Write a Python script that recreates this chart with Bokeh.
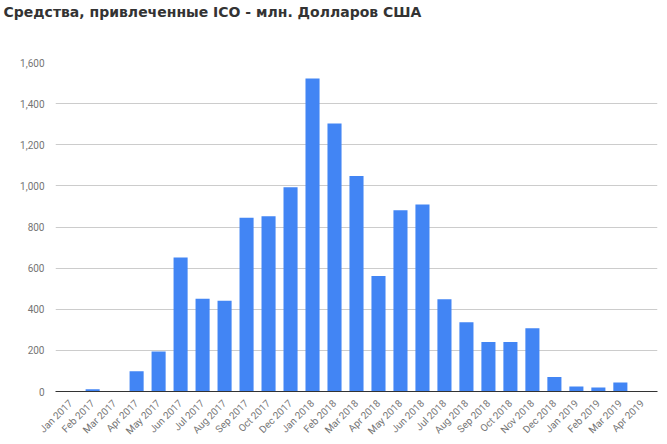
import math
from bokeh.plotting import figure
from bokeh.models import ColumnDataSource, FactorRange, Range1d, FixedTicker, NumeralTickFormatter, Title
from bokeh.embed import file_html
from bokeh.resources import INLINE

title_text = "Средства, привлеченные ICO - млн. Долларов США"
months = ["Jan 2017", "Feb 2017", "Mar 2017", "Apr 2017", "May 2017", "Jun 2017",
          "Jul 2017", "Aug 2017", "Sep 2017", "Oct 2017", "Dec 2017", "Jan 2018",
          "Feb 2018", "Mar 2018", "Apr 2018", "May 2018", "Jun 2018", "Jul 2018",
          "Aug 2018", "Sep 2018", "Oct 2018", "Nov 2018", "Dec 2018", "Jan 2019",
          "Feb 2019", "Mar 2019", "Apr 2019"]
values = [0, 11, 0, 98, 195, 652, 451, 441, 845, 852, 993, 1522, 1303, 1048, 562,
          881, 910, 449, 337, 241, 241, 307, 70, 24, 19, 44, 2]
y_ticks = [0, 200, 400, 600, 800, 1000, 1200, 1400, 1600]

src = ColumnDataSource(dict(x=months, y=values))

p = figure(width=659, height=443, output_backend="svg", toolbar_location=None,
           x_range=FactorRange(factors=months, range_padding=0.014),
           y_range=Range1d(0, 1600),
           min_border_left=55, min_border_right=2, min_border_top=62, min_border_bottom=52)

p.vbar(x="x", top="y", width=0.64, source=src, color="#4285f4", line_color=None)

# spacer between title and plot area, then the title itself (outermost)
p.add_layout(Title(text=" ", text_font_size="10px", standoff=28), "above")
p.add_layout(Title(text=title_text, text_font="DejaVu Sans", text_font_size="14px",
                   text_font_style="bold", text_color="#333333", align="left",
                   vertical_align="top", offset=-52, standoff=0), "above")

p.outline_line_color = None
p.background_fill_color = "white"
p.border_fill_color = "white"

p.xgrid.grid_line_color = None
p.ygrid.grid_line_color = "#cccccc"
p.ygrid.ticker = FixedTicker(ticks=y_ticks)

p.yaxis.ticker = FixedTicker(ticks=y_ticks)
p.yaxis.formatter = NumeralTickFormatter(format="0,0")
p.yaxis.axis_line_color = None
p.yaxis.major_tick_line_color = None
p.yaxis.minor_tick_line_color = None
p.yaxis.major_label_standoff = 5
p.yaxis.major_label_text_font = "Roboto"
p.yaxis.major_label_text_font_size = "10px"
p.yaxis.major_label_text_color = "#757575"

p.xaxis.axis_line_color = "#333333"
p.xaxis.axis_line_width = 1
p.xaxis.major_tick_line_color = None
p.xaxis.minor_tick_line_color = None
p.xaxis.major_label_orientation = math.pi / 4
p.xaxis.major_label_standoff = 4
p.xaxis.major_label_text_font = "Roboto"
p.xaxis.major_label_text_font_size = "10px"
p.xaxis.major_label_text_color = "#757575"

open("out.html", "w").write(file_html(p, INLINE))
